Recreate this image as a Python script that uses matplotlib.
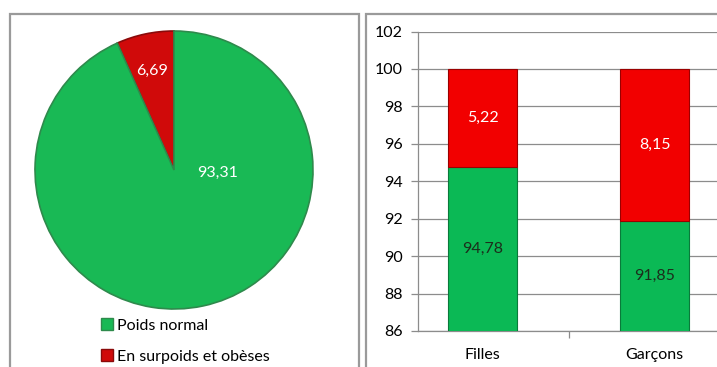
import numpy as np
import matplotlib.pyplot as plt
from matplotlib.patches import Rectangle, Patch

plt.rcParams['font.family'] = ['Lato', 'DejaVu Sans']

# pie data (whole sample)
pie_labels = ['Poids normal', 'En surpoids et obèses']
pie_values = [93.31, 6.69]

# stacked bars by sex
groups = ['Filles', 'Garçons']
normal = [94.78, 91.85]
surpoids = [5.22, 8.15]

GREEN = '#0bb955'
RED = '#f20000'
PIE_GREEN = '#19b955'
PIE_RED = '#d00a0a'
GRID = '#8c8c8c'


def fmt(v):
    return f"{v:.2f}".replace('.', ',')


fig = plt.figure(figsize=(7.17, 3.67), dpi=100)
W, H = 717, 367

# panel frames
fig.patches.append(Rectangle((10 / W, -0.05), (359 - 10) / W, 1 - 13.5 / H + 0.05,
                             transform=fig.transFigure, fill=False,
                             edgecolor='#9a9a9a', lw=1.6))
fig.patches.append(Rectangle((366 / W, -0.05), (W + 10 - 366) / W, 1 - 13.5 / H + 0.05,
                             transform=fig.transFigure, fill=False,
                             edgecolor='#9a9a9a', lw=1.6))

# ---- pie ----
cx, cy, r = 174, 170, 139
ax1 = fig.add_axes([(cx - r) / W, (H - cy - r) / H, 2 * r / W, 2 * r / H])
wedges, _ = ax1.pie([pie_values[1], pie_values[0]], colors=[PIE_RED, PIE_GREEN],
                    startangle=90, counterclock=True, radius=1,
                    wedgeprops=dict(edgecolor='#2e8a4c', linewidth=1.2))
wedges[0].set_edgecolor('#8a0a0a')
ax1.set_xlim(-1, 1)
ax1.set_ylim(-1, 1)
ax1.set_aspect('auto')

# red label at middle of its wedge
a_red = np.deg2rad(90 + pie_values[1] / 100 * 360 / 2)
ax1.text(0.75 * np.cos(a_red), 0.73 * np.sin(a_red), fmt(pie_values[1]),
         color='white', ha='center', va='center', fontsize=11.5)
ax1.text(0.31, -0.02, fmt(pie_values[0]), color='white',
         ha='center', va='center', fontsize=11.5)

handles = [Patch(facecolor=PIE_GREEN, edgecolor='#2e8a4c'),
           Patch(facecolor=PIE_RED, edgecolor='#8a0a0a')]
fig.legend(handles, pie_labels, loc='upper left',
           bbox_to_anchor=(95 / W, 1 - 312 / H), frameon=False,
           handlelength=0.7, handleheight=0.7, handletextpad=0.25,
           labelspacing=1.05, borderaxespad=0, fontsize=11.5)

# ---- stacked bars ----
ax2 = fig.add_axes([418 / W, (H - 331) / H, (W - 418) / W, (331 - 31.5) / H])
x = np.arange(len(groups))
ax2.bar(x, normal, width=0.4, color=GREEN, edgecolor='#0a7a3a', lw=0.8, zorder=3)
ax2.bar(x, surpoids, bottom=normal, width=0.4, color=RED,
        edgecolor='#9a0000', lw=0.8, zorder=3)

ax2.set_yticks(np.arange(86, 103, 2))
ax2.grid(axis='y', color=GRID, lw=0.9, zorder=0)
ax2.set_xticks(x)
ax2.set_xticklabels(groups)
ax2.set_xticks([-0.5, 0.5, 1.5], minor=True)
ax2.set_ylim(86, 102)
ax2.set_xlim(-0.375, 1.363)
ax2.tick_params(axis='x', which='major', length=0, pad=12, labelsize=11.5)
ax2.tick_params(axis='x', which='minor', length=5, color=GRID, width=0.9)
ax2.tick_params(axis='y', length=5, color=GRID, width=0.9, pad=6, labelsize=11.5)
for s in ['top', 'right']:
    ax2.spines[s].set_visible(False)
for s in ['left', 'bottom']:
    ax2.spines[s].set_color(GRID)
    ax2.spines[s].set_linewidth(0.9)

for i in range(len(groups)):
    ax2.text(x[i], (86 + normal[i]) / 2, fmt(normal[i]), ha='center', va='center',
             color='#1c2e1c', fontsize=11.5, zorder=4)
    ax2.text(x[i], normal[i] + surpoids[i] / 2, fmt(surpoids[i]), ha='center',
             va='center', color='white', fontsize=11.5, zorder=4)

fig.savefig('out.png', dpi=100)
